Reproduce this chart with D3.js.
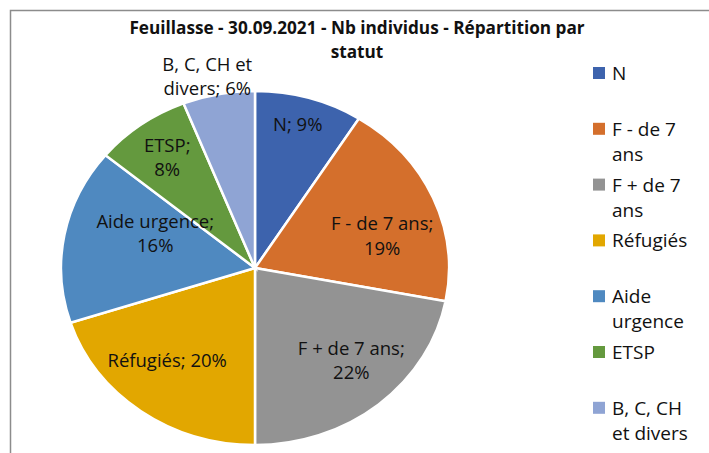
<!DOCTYPE html>
<html>
<head>
<meta charset="utf-8">
<script src="https://cdn.jsdelivr.net/npm/d3@7"></script>
<style>
  body { margin: 0; background: #fff; }
  svg { display: block; font-family: "Open Sans", sans-serif; }
</style>
</head>
<body>
<div id="chart"></div>
<script>
// chart data (share of individuals, %)
const categories = ["N", "F - de 7 ans", "F + de 7 ans", "Réfugiés", "Aide urgence", "ETSP", "B, C, CH et divers"];
const values = [9, 19, 22, 20, 16, 8, 6];
const colors = ["#3d63ad", "#d46f2c", "#939393", "#e2a700", "#4f89c0", "#64993e", "#8fa4d4"];
const titleLines = ["Feuillasse - 30.09.2021 - Nb individus - Répartition par", "statut"];

// label placement: [radius fraction, angle shift in degrees, wrap width]
const labelLayout = [
  [0.84, -1, 200],
  [0.68, 8, 140],
  [0.72, -4, 140],
  [0.69, 5, 200],
  [0.55, 10, 140],
  [0.77, 0, 50],
  [1.11, -2, 115]
];

const width = 709, height = 453;
const cx = 255, cy = 268, r = 177, sx = 1.096;
const textColor = "#111";

const svg = d3.select("#chart")
  .append("svg")
  .attr("width", width)
  .attr("height", height);

// chart frame (only top and left visible)
svg.append("path")
  .attr("d", `M10.5,${height}V10.5H${width}`)
  .attr("fill", "none")
  .attr("stroke", "#8c8c8c")
  .attr("stroke-width", 1.5);

// title
svg.append("text")
  .attr("text-anchor", "middle")
  .attr("font-weight", "bold")
  .attr("font-size", 17.2)
  .attr("fill", textColor)
  .selectAll("tspan")
  .data(titleLines)
  .enter()
  .append("tspan")
  .attr("x", 357)
  .attr("y", (d, i) => 34 + i * 24)
  .text(d => d);

const pie = d3.pie().sort(null).value(d => d);
const arcs = pie(values);
const arc = d3.arc().innerRadius(0).outerRadius(r);

const g = svg.append("g")
  .attr("transform", `translate(${cx},${cy}) scale(${sx},1)`);

g.selectAll("path")
  .data(arcs)
  .enter()
  .append("path")
  .attr("d", arc)
  .attr("fill", (d, i) => colors[i])
  .attr("stroke", "#fff")
  .attr("stroke-width", 2.5)
  .attr("vector-effect", "non-scaling-stroke");

// word wrapping helper
function wrapLines(text, maxW, fontSize) {
  const probe = svg.append("text").attr("font-size", fontSize);
  const words = text.split(" ");
  const lines = [];
  let line = "";
  words.forEach(w => {
    const test = line ? line + " " + w : w;
    probe.text(test);
    if (line && probe.node().getComputedTextLength() > maxW) {
      lines.push(line);
      line = w;
    } else {
      line = test;
    }
  });
  lines.push(line);
  probe.remove();
  return lines;
}

// data labels
const labelSize = 18.5;
const lineH = 24.5;
arcs.forEach((d, i) => {
  const [rf, shift, wrapW] = labelLayout[i];
  const a = (d.startAngle + d.endAngle) / 2 + shift * Math.PI / 180;
  const lx = cx + Math.sin(a) * r * rf * sx;
  const ly = cy - Math.cos(a) * r * rf;
  const lines = wrapLines(categories[i] + "; " + values[i] + "%", wrapW, labelSize);
  const t = svg.append("text")
    .attr("text-anchor", "middle")
    .attr("font-size", labelSize)
    .attr("fill", textColor);
  lines.forEach((ln, j) => {
    t.append("tspan")
      .attr("x", lx)
      .attr("y", ly + (j - (lines.length - 1) / 2) * lineH + 6.5)
      .text(ln);
  });
});

// legend
const legendX = 593, legendY = 73, slot = 55.8, legendSize = 19;
const legend = svg.append("g");
categories.forEach((c, i) => {
  const y = legendY + i * slot;
  legend.append("rect")
    .attr("x", legendX)
    .attr("y", y - 6)
    .attr("width", 12)
    .attr("height", 12)
    .attr("fill", colors[i]);
  const lines = wrapLines(c, 92, legendSize);
  const t = legend.append("text")
    .attr("font-size", legendSize)
    .attr("fill", textColor);
  lines.forEach((ln, j) => {
    t.append("tspan")
      .attr("x", legendX + 19)
      .attr("y", y + 7 + j * 25)
      .text(ln);
  });
});
</script>
</body>
</html>
